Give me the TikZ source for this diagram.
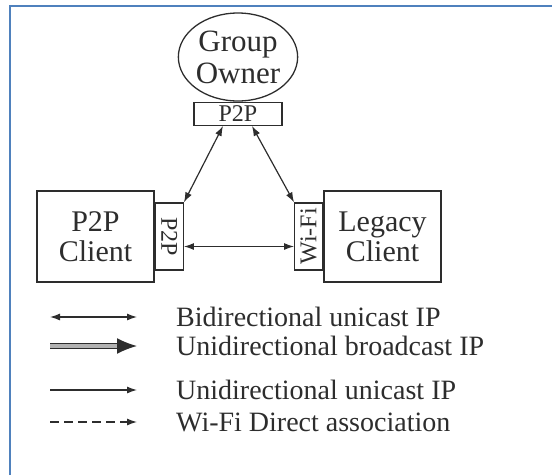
\documentclass[tikz,border=0pt]{standalone}
\usepackage{fontspec}
\setmainfont{Liberation Serif}
\usetikzlibrary{arrows.meta, positioning, shapes.geometric}
\definecolor{frameblue}{RGB}{79,129,189}
\definecolor{inkgray}{RGB}{45,45,45}

\begin{document}
\begin{tikzpicture}[
  x=1pt, y=-1pt,
  devbox/.style={draw=inkgray, line width=1.3pt, minimum width=117pt, minimum height=91pt,
    inner sep=0pt, align=center, text=inkgray, font=\fontsize{30}{30}\selectfont},
  ifbox/.style={draw=inkgray, line width=1.3pt, inner sep=0pt, text=inkgray, font=\fontsize{24}{24}\selectfont},
  bimsg/.style={{Latex[length=10pt,width=7pt]}-{Latex[length=10pt,width=7pt]}, line width=1.2pt, inkgray},
  unimsg/.style={-{Latex[length=10pt,width=7pt]}, line width=1.2pt, inkgray},
  bcastmsg/.style={-{Latex[length=20pt,width=16pt]}, line width=1.6pt, double=gray!60, double distance=3.5pt, inkgray},
  assocmsg/.style={-{Latex[length=10pt,width=7pt]}, line width=1.2pt, dash pattern=on 9pt off 5pt, inkgray},
  legtxt/.style={anchor=west, inner sep=0pt, text=inkgray, font=\fontsize{28}{28}\selectfont}
]
\useasboundingbox (0,0) rectangle (552,475);
\draw[frameblue, line width=2pt] (10,475) -- (10,5.5) -- (552,5.5);

% group owner and its interface
\node[ellipse, draw=inkgray, line width=1.3pt, minimum width=116pt, minimum height=88pt,
  inner sep=0pt, align=center, text=inkgray, font=\fontsize{31}{32}\selectfont] (go) at (238,57) {Group\\Owner};
\node[ifbox, minimum width=88pt, minimum height=23pt, below=0pt of go] (gop2p) {P2P};

% clients
\node[devbox] (p2pcl) at (95.5,236.5) {P2P\\Client};
\node[ifbox, minimum width=28pt, minimum height=67pt, right=0pt of p2pcl] (clp2p) {\rotatebox{-90}{P2P}};
\node[devbox] (legcl) at (382.5,236.5) {Legacy\\Client};
\node[ifbox, minimum width=28pt, minimum height=67pt, left=0pt of legcl] (clwifi) {\rotatebox{90}{Wi-Fi}};

\draw[bimsg] ([xshift=-15pt]gop2p.south) -- (clp2p.north east);
\draw[bimsg] ([xshift=14pt]gop2p.south) -- (clwifi.north west);
\draw[bimsg] ([yshift=-10pt]clp2p.east) -- ([yshift=-10pt]clwifi.west);

% legend
\coordinate (bia) at (50,317);
\coordinate (bib) at (137,317);
\draw[bimsg] (bia) -- (bib);
\node[legtxt, right=39pt of bib] (bitxt) {Bidirectional unicast IP};

\coordinate (bca) at (50,346);
\coordinate (bcb) at (137,346);
\draw[bcastmsg] (bca) -- (bcb);
\node[legtxt, right=39pt of bcb] (bctxt) {Unidirectional broadcast IP};

\coordinate (una) at (50,390);
\coordinate (unb) at (137,390);
\draw[unimsg] (una) -- (unb);
\node[legtxt, right=39pt of unb] (untxt) {Unidirectional unicast IP};

\coordinate (asa) at (50,422);
\coordinate (asb) at (137,422);
\draw[assocmsg] (asa) -- (asb);
\node[legtxt, right=39pt of asb] (astxt) {Wi-Fi Direct association};
\end{tikzpicture}
\end{document}
